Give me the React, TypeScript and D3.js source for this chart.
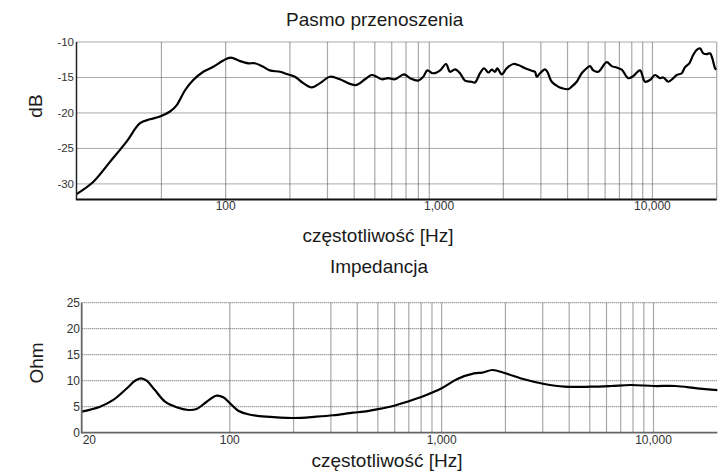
import * as d3 from "d3";

// Pasmo przenoszenia (frequency response)
const respFreq = [20, 24, 28.7, 34.4, 39.7, 44.2, 49.2, 54.9, 59, 64.5, 70.5, 78.6, 87.5, 97.5, 105.6, 116.8, 127.7, 137, 150, 161, 180, 193, 211, 231, 253, 277, 308, 343, 382, 411, 450, 483, 510, 539, 578, 622, 685, 731, 799, 844, 881, 934, 975, 1021, 1078, 1125, 1188, 1254, 1323, 1422, 1474, 1556, 1625, 1702, 1765, 1829, 1875, 1966, 2075, 2228, 2352, 2528, 2717, 2816, 2868, 2972, 3137, 3216, 3372, 3620, 3756, 4032, 4183, 4416, 4661, 4918, 5097, 5283, 5576, 6104, 6442, 6800, 7176, 7704, 8132, 8742, 9226, 9738, 10280, 10850, 11244, 11868, 12527, 12996, 13709, 14210, 14884, 15542, 16124, 16708, 17312, 17958, 18610, 19078, 19646, 19900];
const respDb = [-31.45, -29.7, -26.9, -24.0, -21.45, -20.9, -20.5, -19.8, -18.9, -16.8, -15.35, -14.2, -13.5, -12.6, -12.2, -12.7, -13.0, -13.0, -13.5, -14.0, -14.2, -14.5, -14.9, -15.8, -16.4, -15.8, -14.9, -15.25, -15.9, -16.05, -15.25, -14.65, -14.9, -15.25, -15.1, -15.25, -14.55, -15.1, -15.45, -14.9, -14.0, -14.4, -14.3, -13.9, -13.1, -14.2, -13.85, -14.4, -15.45, -15.6, -15.7, -14.4, -13.7, -14.3, -13.9, -14.2, -13.7, -14.55, -13.7, -13.1, -13.25, -13.7, -14.05, -14.2, -14.9, -14.4, -13.85, -14.2, -15.6, -16.3, -16.5, -16.65, -16.3, -15.6, -14.4, -13.7, -13.4, -14.0, -14.2, -12.85, -13.4, -13.6, -13.9, -15.1, -14.8, -14.0, -15.6, -15.35, -14.65, -15.1, -15.0, -15.6, -15.1, -14.65, -14.4, -13.55, -13.0, -11.8, -11.1, -10.9, -11.6, -11.7, -11.6, -12.3, -13.7, -13.9];

// Impedancja
const impFreq = [20, 24.4, 28.2, 32.6, 35.7, 38.1, 40.5, 44.3, 49.5, 56.1, 63.7, 69.7, 77.8, 86.7, 93.2, 100.2, 109.6, 122, 149, 200, 256, 308, 382, 428, 496, 596, 689, 824, 1000, 1186, 1422, 1554, 1736, 2000, 2448, 3050, 3798, 5070, 6300, 7820, 10040, 12700, 16060, 20000];
const impOhm = [4.04, 5.0, 6.3, 8.5, 10.0, 10.45, 10.0, 8.2, 5.96, 4.88, 4.37, 4.56, 5.96, 7.12, 6.8, 5.65, 4.23, 3.54, 3.08, 2.83, 3.08, 3.35, 3.85, 4.04, 4.5, 5.19, 5.96, 7.06, 8.54, 10.33, 11.42, 11.54, 12.06, 11.42, 10.27, 9.37, 8.85, 8.85, 8.98, 9.17, 8.98, 8.98, 8.54, 8.2];

const respTicksY = [-10, -15, -20, -25, -30];
const impTicksY = [0, 5, 10, 15, 20, 25];
const xLabels = [100, 1000, 10000];
const respGridX = [50, 100, 200, 300, 400, 500, 600, 700, 800, 900, 2000, 3000, 4000, 5000, 6000, 7000, 8000, 9000, 10000];
const impGridX = [100, 200, 300, 400, 500, 600, 700, 800, 900, 1000, 2000, 3000, 4000, 5000, 6000, 7000, 8000, 9000, 10000];

const FONT = "'Liberation Sans', Arial, sans-serif";
const fmt = d3.format(",");

export default function App() {
  // wykres 1
  const x1 = d3.scaleLog().domain([20, 20000]).range([76.5, 716.7]);
  const y1 = d3.scaleLinear().domain([-32.2, -10]).range([199.5, 42]);
  // wykres 2
  const x2 = d3.scaleLog().domain([20, 20000]).range([81.7, 717.3]);
  const y2 = d3.scaleLinear().domain([0, 25]).range([432.7, 302.7]);

  const line1 = d3.line<number>()
    .x((d, i) => x1(respFreq[i]))
    .y((d) => y1(d))
    .curve(d3.curveCatmullRom.alpha(0.5));
  const line2 = d3.line<number>()
    .x((d, i) => x2(impFreq[i]))
    .y((d) => y2(d))
    .curve(d3.curveCatmullRom.alpha(0.5));

  return (
    <svg width={728} height={473} style={{ position: "absolute", left: 0, top: 0, background: "#fff" }} fontFamily={FONT}>
      {/* --- Pasmo przenoszenia --- */}
      <text x={374.7} y={26} fontSize={19} textAnchor="middle" fill="#1a1a1a">Pasmo przenoszenia</text>
      {respGridX.map((f) => (
        <line key={"v1" + f} x1={x1(f)} x2={x1(f)} y1={42} y2={199.5} stroke="#a8a8a8" strokeWidth={1.2} />
      ))}
      <line x1={716.7} x2={716.7} y1={42} y2={199.5} stroke="#a8a8a8" strokeWidth={1.2} />
      {respTicksY.map((t) => (
        <g key={"h1" + t}>
          <line x1={76.5} x2={716.7} y1={y1(t)} y2={y1(t)} stroke="#555" strokeWidth={1} strokeDasharray="1,1" />
          <text x={74} y={y1(t) + 4} fontSize={11.5} textAnchor="end" fill="#333">{t}</text>
        </g>
      ))}
      <path d={line1(respDb) || ""} fill="none" stroke="#000" strokeWidth={2.2} strokeLinejoin="round" />
      <line x1={76.5} x2={76.5} y1={42} y2={200} stroke="#222" strokeWidth={1.5} />
      <line x1={76} x2={716.7} y1={199.5} y2={199.5} stroke="#111" strokeWidth={1.8} />
      {xLabels.map((f) => (
        <text key={"l1" + f} x={x1(f)} y={209.5} fontSize={12} textAnchor="middle" fill="#333">{fmt(f)}</text>
      ))}
      <text transform="translate(42,106) rotate(-90)" fontSize={19} textAnchor="middle" fill="#1a1a1a">dB</text>
      <text x={378} y={242} fontSize={19} textAnchor="middle" fill="#1a1a1a">częstotliwość [Hz]</text>

      {/* --- Impedancja --- */}
      <text x={379} y={273} fontSize={19} textAnchor="middle" fill="#1a1a1a">Impedancja</text>
      {impGridX.map((f) => (
        <line key={"v2" + f} x1={x2(f)} x2={x2(f)} y1={302.7} y2={432.7} stroke="#a8a8a8" strokeWidth={1.2} />
      ))}
      {impTicksY.map((t) => (
        <g key={"h2" + t}>
          {t > 0 && (
            <line x1={81.7} x2={717.3} y1={y2(t)} y2={y2(t)} stroke="#555" strokeWidth={1} strokeDasharray="1,1" />
          )}
          <text x={80} y={y2(t) + 4.5} fontSize={12} textAnchor="end" fill="#333">{t}</text>
        </g>
      ))}
      <path d={line2(impOhm) || ""} fill="none" stroke="#000" strokeWidth={2.2} strokeLinejoin="round" />
      <line x1={81.7} x2={81.7} y1={302.7} y2={433.5} stroke="#666" strokeWidth={1.8} />
      <line x1={81} x2={717.3} y1={432.7} y2={432.7} stroke="#666" strokeWidth={1.8} />
      <text x={x2(20) + 1} y={443.5} fontSize={12} textAnchor="start" fill="#333">20</text>
      {xLabels.map((f) => (
        <text key={"l2" + f} x={x2(f)} y={443.5} fontSize={12} textAnchor="middle" fill="#333">{fmt(f)}</text>
      ))}
      <text transform="translate(43,363) rotate(-90)" fontSize={19} textAnchor="middle" fill="#1a1a1a">Ohm</text>
      <text x={387} y={467} fontSize={19} textAnchor="middle" fill="#1a1a1a">częstotliwość [Hz]</text>
    </svg>
  );
}
